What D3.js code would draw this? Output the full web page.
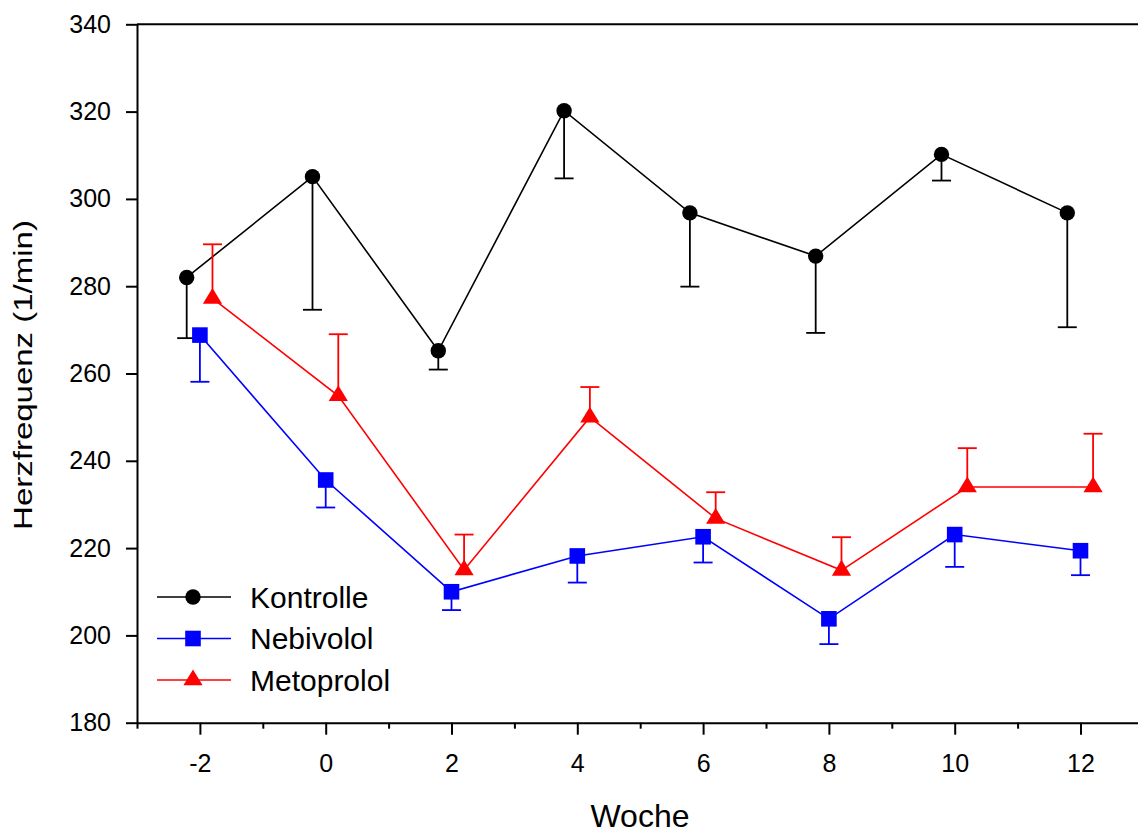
<!DOCTYPE html>
<html>
<head>
<meta charset="utf-8">
<script src="https://cdn.jsdelivr.net/npm/d3@7"></script>
<style>
  body { margin: 0; background: #fff; }
  text { font-family: "Liberation Sans", Arial, sans-serif; fill: #000; }
</style>
</head>
<body>
<div id="canvas"></div>
<script>
// Herzfrequenz je Woche
const weeks = [-2, 0, 2, 4, 6, 8, 10, 12];

const kontrolle = [282.0, 305.1, 265.2, 320.2, 296.8, 286.9, 310.2, 296.8];
const kontrolleErr = [13.9, 30.5, 4.3, 15.5, 16.9, 17.6, 6.0, 26.2];

const nebivolol = [268.8, 235.6, 210.0, 218.2, 222.6, 203.8, 223.1, 219.4];
const nebivololErr = [10.7, 6.3, 4.2, 6.1, 5.9, 5.8, 7.4, 5.6];

const metoprolol = [277.2, 254.9, 215.0, 250.0, 226.8, 214.9, 234.0, 234.0];
const metoprololErr = [12.4, 14.1, 8.1, 6.9, 6.0, 7.6, 8.9, 12.2];

const seriesNames = ["Kontrolle", "Nebivolol", "Metoprolol"];
const majorTicks = [-2, 0, 2, 4, 6, 8, 10, 12];
const minorTicks = [-3, -1, 1, 3, 5, 7, 9, 11, 13];
const yTicks = [180, 200, 220, 240, 260, 280, 300, 320, 340];

const width = 1138;
const height = 834;

const series = [
  { name: seriesNames[0], values: kontrolle, err: kontrolleErr, color: "#000000", shape: "circle", dx: -0.21, dir: -1 },
  { name: seriesNames[1], values: nebivolol, err: nebivololErr, color: "#0000ff", shape: "square", dx: 0, dir: -1 },
  { name: seriesNames[2], values: metoprolol, err: metoprololErr, color: "#ff0000", shape: "triangle", dx: 0.2, dir: 1 },
];

const svg = d3.select("#canvas").append("svg").attr("width", width).attr("height", height);

const x = d3.scaleLinear().domain([-3, 13]).range([137, 137 + 16 * 62.9]);
const y = d3.scaleLinear().domain([180, 340]).range([722.7, 24.3]);

// top frame line
svg.append("line")
  .attr("x1", x(-3)).attr("x2", x(13))
  .attr("y1", y(340)).attr("y2", y(340))
  .attr("stroke", "#000").attr("stroke-width", 2);

// x axis, minor then major
const xMinor = svg.append("g")
  .attr("transform", `translate(0, ${y(180)})`)
  .call(d3.axisBottom(x).tickValues(minorTicks).tickSize(6).tickSizeOuter(0).tickFormat(""));
xMinor.select(".domain").remove();
xMinor.selectAll("line").attr("stroke-width", 2);

const xAxis = svg.append("g")
  .attr("transform", `translate(0, ${y(180)})`)
  .call(d3.axisBottom(x).tickValues(majorTicks).tickSize(12).tickSizeOuter(0).tickPadding(20).tickFormat((d) => String(d)));
xAxis.select(".domain").attr("stroke-width", 2);
xAxis.selectAll("line").attr("stroke-width", 2);
xAxis.selectAll("text").style("font-size", "25px").attr("font-family", null);

// y axis
const yAxis = svg.append("g")
  .attr("transform", `translate(${x(-3)}, 0)`)
  .call(d3.axisLeft(y).tickValues(yTicks).tickSize(11).tickSizeOuter(0).tickPadding(15));
yAxis.select(".domain").attr("stroke-width", 2);
yAxis.selectAll("line").attr("stroke-width", 2);
yAxis.selectAll("text").style("font-size", "25px").attr("font-family", null);

// axis titles
svg.append("text")
  .attr("text-anchor", "middle")
  .style("font-size", "32px")
  .attr("x", 640)
  .attr("y", 827)
  .text("Woche");

svg.append("text")
  .attr("text-anchor", "middle")
  .style("font-size", "33px")
  .attr("transform", "translate(32, 375) rotate(-90) scale(1, 0.8)")
  .text("Herzfrequenz (1/min)");

function drawMarker(sel, shape, color) {
  if (shape === "circle") {
    sel.append("circle").attr("r", 7.7).attr("fill", color);
  } else if (shape === "square") {
    sel.append("rect").attr("x", -7.8).attr("y", -7.8).attr("width", 15.6).attr("height", 15.6).attr("fill", color);
  } else {
    sel.append("path").attr("d", "M0,-10.5 L9.6,5.3 L-9.6,5.3 Z").attr("fill", color);
  }
}

series.forEach((s) => {
  const g = svg.append("g");
  const pts = weeks.map((w, i) => ({ w: w + s.dx, v: s.values[i], e: s.err[i] }));

  // error bars (one-sided)
  const eb = g.selectAll(".eb").data(pts).enter().append("g").attr("class", "eb");
  eb.append("line")
    .attr("x1", (d) => x(d.w)).attr("x2", (d) => x(d.w))
    .attr("y1", (d) => y(d.v)).attr("y2", (d) => y(d.v + s.dir * d.e))
    .attr("stroke", s.color).attr("stroke-width", 1.8);
  eb.append("line")
    .attr("x1", (d) => x(d.w) - 9.5).attr("x2", (d) => x(d.w) + 9.5)
    .attr("y1", (d) => y(d.v + s.dir * d.e)).attr("y2", (d) => y(d.v + s.dir * d.e))
    .attr("stroke", s.color).attr("stroke-width", 1.8);

  g.append("path")
    .datum(pts)
    .attr("fill", "none")
    .attr("stroke", s.color)
    .attr("stroke-width", 1.6)
    .attr("d", d3.line().x((d) => x(d.w)).y((d) => y(d.v)));

  g.selectAll(".mk").data(pts).enter().append("g")
    .attr("class", "mk")
    .attr("transform", (d) => `translate(${x(d.w)}, ${y(d.v)})`)
    .each(function () { drawMarker(d3.select(this), s.shape, s.color); });
});

// legend
const legend = svg.append("g").attr("transform", "translate(157, 597)");
series.forEach((s, i) => {
  const row = legend.append("g").attr("transform", `translate(0, ${i * 41.5})`);
  row.append("line").attr("x1", 0).attr("x2", 74).attr("y1", 0).attr("y2", 0)
    .attr("stroke", s.color).attr("stroke-width", 1.6);
  drawMarker(row.append("g").attr("transform", "translate(36, 0)"), s.shape, s.color);
  row.append("text")
    .attr("x", 93)
    .attr("y", 10.5)
    .style("font-size", "30px")
    .text(s.name);
});
</script>
</body>
</html>
